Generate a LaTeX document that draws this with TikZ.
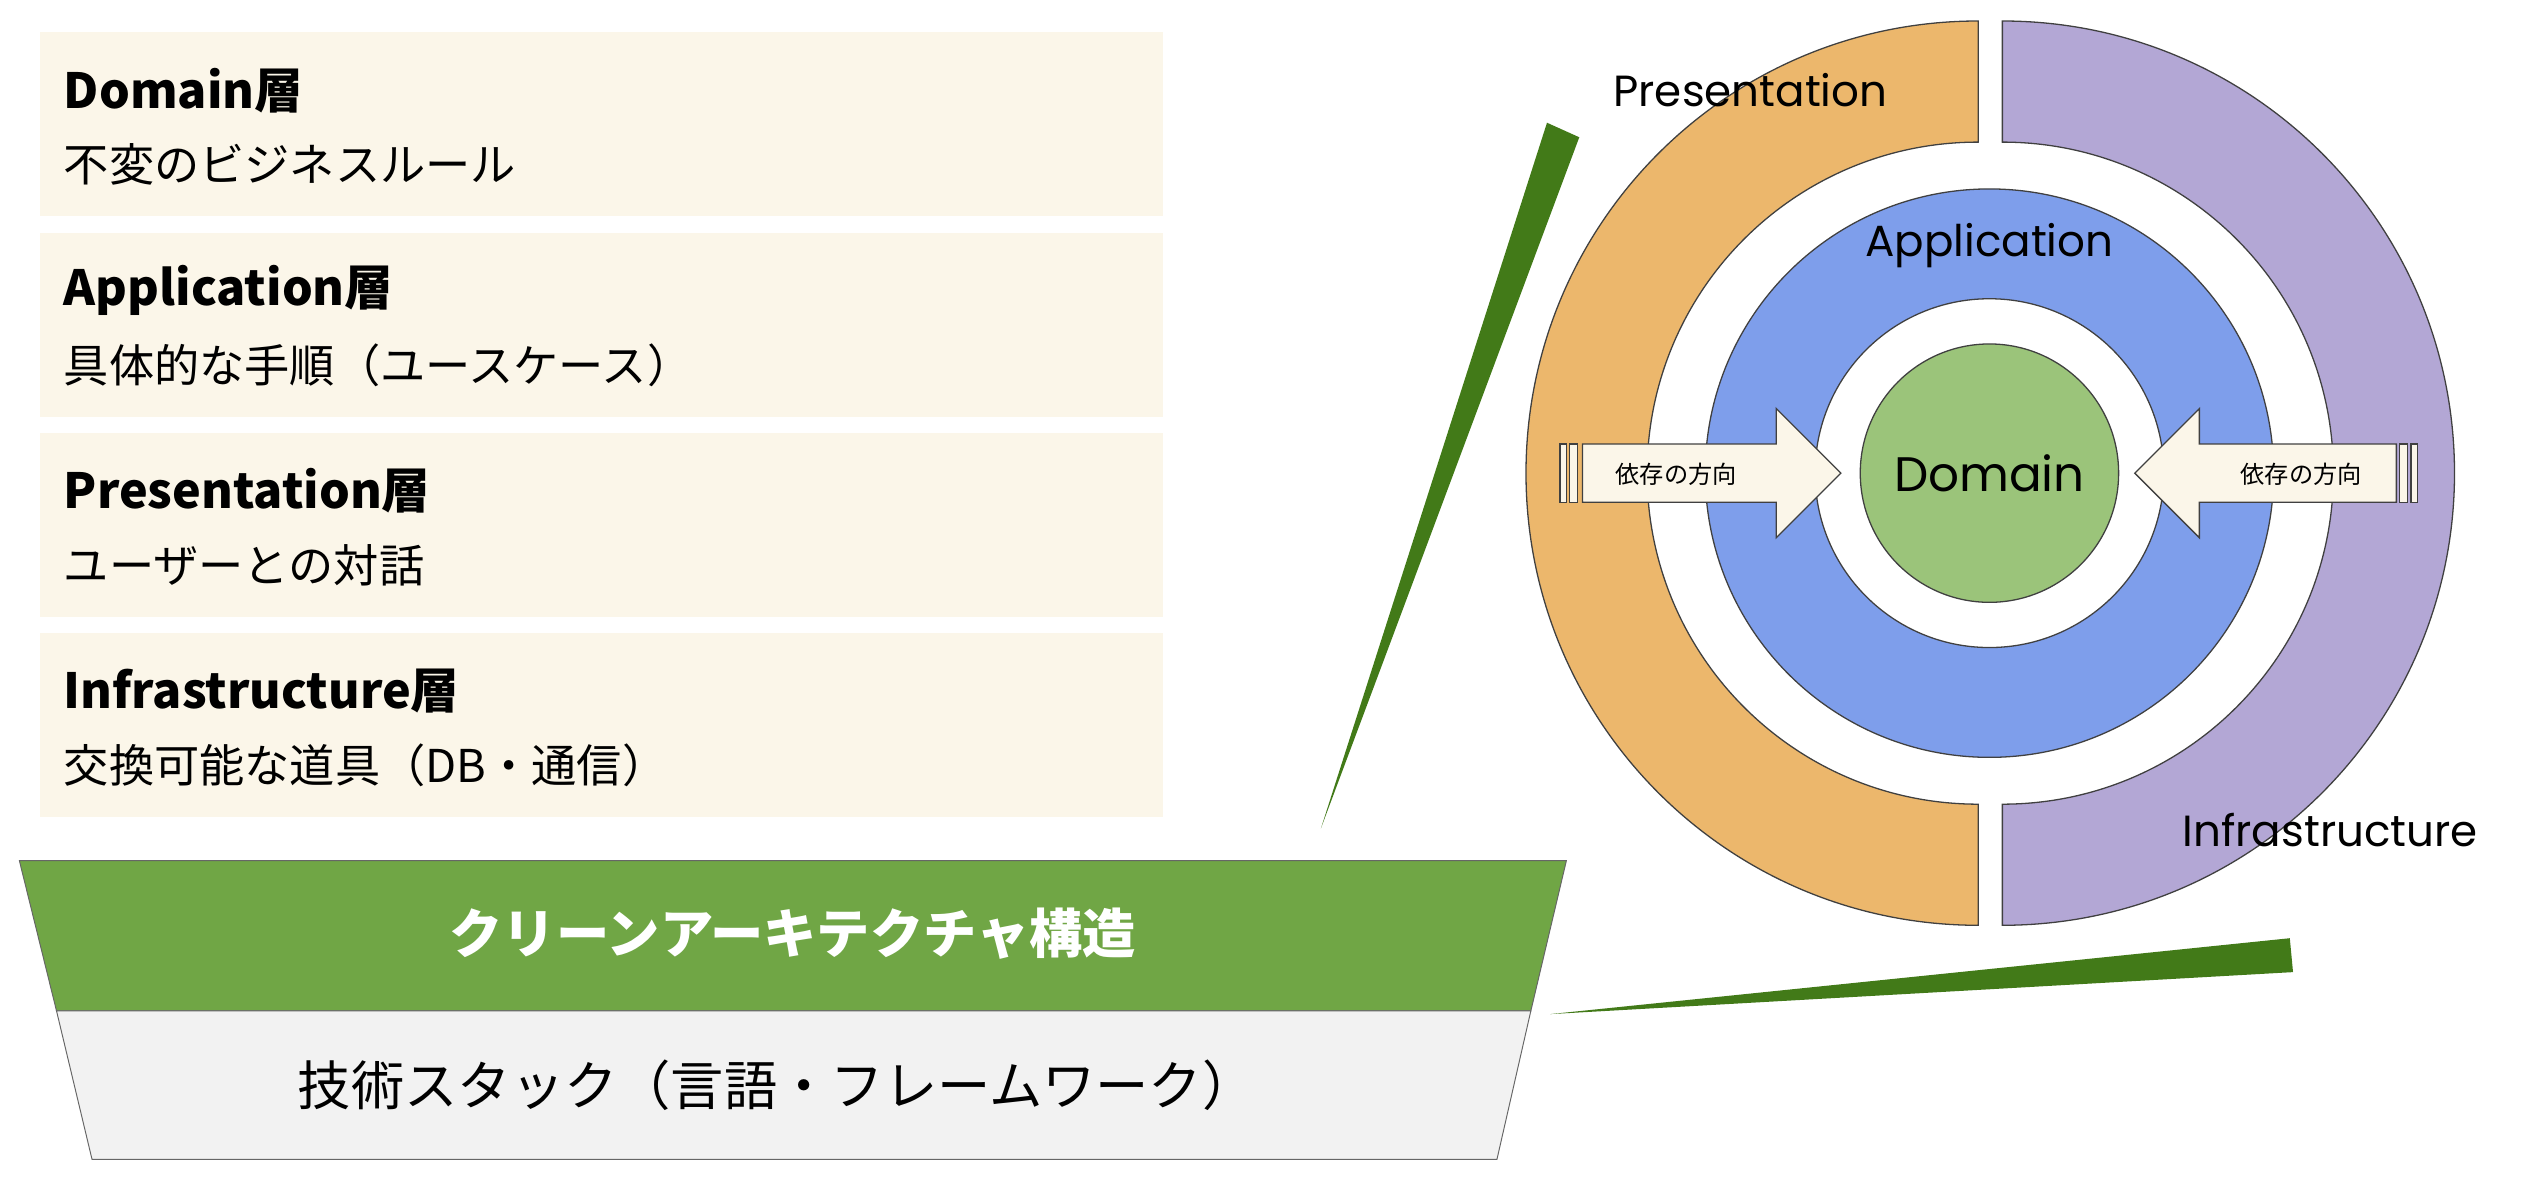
\documentclass[tikz,border=0pt]{standalone}
\usepackage{fontspec}
\setmainfont{Noto Sans CJK JP}
\newfontfamily\geo{Poppins}
\begin{document}
\begin{tikzpicture}[x=1pt,y=-1pt,
  edge/.style={draw=black!75,line width=0.8pt},
  card/.style={fill=cream,draw=none},
  ttl/.style={anchor=west,font=\fontsize{30}{34}\selectfont\bfseries},
  sub/.style={anchor=west,font=\fontsize{28}{32}\selectfont},
  ringlbl/.style={font=\geo\fontsize{27}{30}\selectfont},
  arrlbl/.style={font=\fontsize{15}{18}\selectfont}]
\definecolor{cream}{HTML}{FBF6E9}
\definecolor{orng}{HTML}{ECB76C}
\definecolor{purp}{HTML}{B3A7D5}
\definecolor{blu}{HTML}{7E9EEB}
\definecolor{dgrn}{HTML}{9BC47A}
\definecolor{bargreen}{HTML}{70A645}
\definecolor{wedge}{HTML}{427A18}
\useasboundingbox (0,0) rectangle (1568,742);
% cards
\foreach \y/\t/\s [count=\i] in {20/Domain層/不変のビジネスルール,144/Application層/具体的な手順（ユースケース）,268/Presentation層/ユーザーとの対話,392/Infrastructure層/交換可能な道具（DB・通信）}{
  \fill[cream] (25,\y) rectangle (720,\y+114);
  \node[ttl] (t\i) at (36,\y+36) {\t};
  \node[sub] (s\i) at (36,\y+82) {\s};
}
% bottom trapezoid
\filldraw[fill=bargreen,draw=black!60,line width=0.6pt] (12,533)--(970,533)--(948,626)--(35,626)--cycle;
\filldraw[fill=black!5,draw=black!60,line width=0.6pt] (35,626)--(948,626)--(927,718)--(57,718)--cycle;
\node[text=white,font=\fontsize{33}{36}\selectfont\bfseries] (bar) at (491,578) {クリーンアーキテクチャ構造};
\node[font=\fontsize{33}{36}\selectfont] (stack) at (481,672) {技術スタック（言語・フレームワーク）};
% wedges
\fill[wedge] (958,76)--(978,85)--(818,513)--cycle;
\fill[wedge] (960,628)--(1418,581)--(1420,602)--cycle;
% rings
\coordinate (c) at (1232,293);
\filldraw[fill=orng,edge] (1225,13) arc[start angle=-90,end angle=-270,radius=280] -- (1225,498) arc[start angle=90,end angle=270,radius=205] -- cycle;
\filldraw[fill=purp,edge] (1240,13) arc[start angle=-90,end angle=90,radius=280] -- (1240,498) arc[start angle=90,end angle=-90,radius=205] -- cycle;
\filldraw[fill=blu,edge] (c) circle[radius=176];
\filldraw[fill=white,edge] (c) circle[radius=108];
\filldraw[fill=dgrn,edge] (c) circle[radius=80];
% arrows
\filldraw[fill=cream,edge] (980,275)--(1100,275)--(1100,253)--(1140,293)--(1100,333)--(1100,311)--(980,311)--cycle;
\filldraw[fill=cream,edge] (966,275) rectangle (970,311);
\filldraw[fill=cream,edge] (972,275) rectangle (977,311);
\filldraw[fill=cream,edge] (1484,275)--(1362,275)--(1362,253)--(1322,293)--(1362,333)--(1362,311)--(1484,311)--cycle;
\filldraw[fill=cream,edge] (1486,275) rectangle (1491,311);
\filldraw[fill=cream,edge] (1493,275) rectangle (1497,311);
\node[arrlbl] (a1) at (1038,294) {依存の方向};
\node[arrlbl] (a2) at (1425,294) {依存の方向};
% labels
\node[ringlbl] (lp) at (1084,56) {Presentation};
\node[ringlbl] (la) at (1232,152) {Application};
\node[ringlbl,font=\geo\fontsize{30}{34}\selectfont] (ld) at (1232,293) {Domain};
\node[ringlbl] (li) at (1443,514) {Infrastructure};
\end{tikzpicture}
\end{document}
